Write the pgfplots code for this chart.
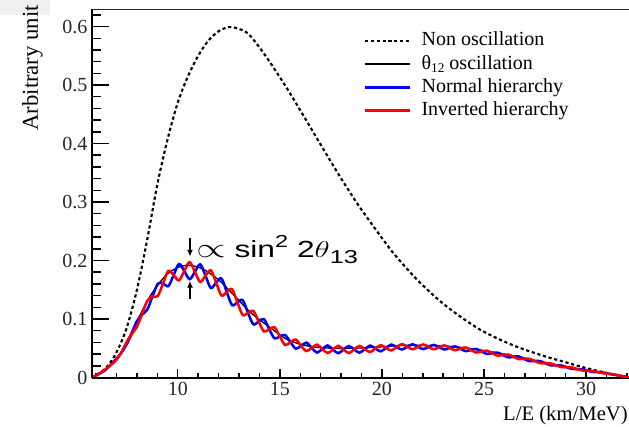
\documentclass[border=0pt]{standalone}
\usepackage{fontspec}
\setmainfont{Liberation Serif}
\newfontfamily\sansfont{Liberation Sans}
\usepackage{pgfplots}
\usepackage{pgfplotstable}
\pgfplotsset{compat=1.18}
\usetikzlibrary{arrows.meta}

\pgfplotstableread{
x y
5.8 0
6.0 0.004
6.5 0.017
7.0 0.043
7.5 0.085
8.0 0.150
8.5 0.235
9.0 0.330
9.5 0.407
10.0 0.470
10.5 0.515
11.0 0.550
11.5 0.576
12.0 0.592
12.5 0.599
13.0 0.596
13.5 0.586
14.3 0.550
15.3 0.497
16.1 0.451
16.9 0.404
17.9 0.346
18.8 0.297
19.8 0.248
20.6 0.211
21.7 0.168
22.8 0.132
23.8 0.105
24.8 0.082
25.7 0.066
26.5 0.054
27.3 0.044
28.1 0.035
29.0 0.026
29.8 0.018
30.6 0.011
31.4 0.005
32.1 0.000
}\nonosc

\pgfplotstableread{
x y
5.8 0
6.0 0.003
6.5 0.015
7.1 0.036
7.6 0.068
8.1 0.103
8.7 0.142
9.4 0.174
10.0 0.188
10.5 0.192
11.2 0.186
12.0 0.167
12.8 0.139
13.6 0.110
14.5 0.086
15.3 0.066
16.0 0.057
16.7 0.052
17.6 0.050
18.5 0.050
19.3 0.051
20.2 0.053
21.0 0.055
22.0 0.055
23.0 0.054
24.0 0.051
25.0 0.046
25.8 0.041
26.6 0.036
27.4 0.030
28.2 0.024
29.1 0.018
29.9 0.013
30.7 0.009
31.4 0.005
32.1 0.0
}\thetaonetwo

\pgfplotstableread{
x ih nh
5.80 0.0000 0.0000
5.90 0.0013 0.0015
6.16 0.0065 0.0065
6.42 0.0130 0.0118
6.68 0.0203 0.0203
6.94 0.0278 0.0302
7.20 0.0405 0.0405
7.46 0.0583 0.0543
7.72 0.0730 0.0730
7.98 0.0855 0.0951
8.24 0.1070 0.1070
8.50 0.1307 0.1157
8.76 0.1382 0.1382
9.02 0.1391 0.1601
9.28 0.1609 0.1609
9.54 0.1823 0.1563
9.80 0.1751 0.1751
10.06 0.1660 0.1940
10.32 0.1820 0.1820
10.58 0.1972 0.1682
10.84 0.1806 0.1806
11.10 0.1634 0.1934
11.36 0.1740 0.1740
11.62 0.1831 0.1531
11.88 0.1622 0.1622
12.14 0.1403 0.1693
12.40 0.1461 0.1461
12.66 0.1509 0.1239
12.92 0.1286 0.1286
13.18 0.1071 0.1321
13.44 0.1106 0.1106
13.70 0.1140 0.0910
13.96 0.0959 0.0959
14.22 0.0788 0.0998
14.48 0.0826 0.0826
14.74 0.0859 0.0669
15.00 0.0702 0.0702
15.26 0.0555 0.0725
15.52 0.0604 0.0604
15.78 0.0649 0.0493
16.04 0.0541 0.0541
16.30 0.0452 0.0596
16.56 0.0506 0.0506
16.82 0.0562 0.0426
17.08 0.0489 0.0489
17.34 0.0418 0.0548
17.60 0.0478 0.0478
17.86 0.0541 0.0415
18.12 0.0478 0.0478
18.38 0.0418 0.0538
18.64 0.0479 0.0479
18.90 0.0540 0.0424
19.16 0.0485 0.0485
19.42 0.0434 0.0546
19.68 0.0495 0.0495
19.94 0.0553 0.0447
20.20 0.0506 0.0506
20.46 0.0463 0.0563
20.72 0.0519 0.0519
20.98 0.0571 0.0479
21.24 0.0525 0.0525
21.50 0.0482 0.0568
21.76 0.0525 0.0525
22.02 0.0565 0.0485
22.28 0.0522 0.0522
22.54 0.0482 0.0558
22.80 0.0518 0.0518
23.06 0.0549 0.0479
23.32 0.0506 0.0506
23.58 0.0466 0.0532
23.84 0.0492 0.0492
24.10 0.0513 0.0451
24.36 0.0470 0.0470
24.62 0.0427 0.0487
24.88 0.0445 0.0445
25.14 0.0459 0.0403
25.40 0.0415 0.0415
25.66 0.0374 0.0426
25.92 0.0385 0.0385
26.18 0.0393 0.0345
26.44 0.0353 0.0353
26.70 0.0315 0.0359
26.96 0.0318 0.0318
27.22 0.0320 0.0280
27.48 0.0281 0.0281
27.74 0.0245 0.0281
28.00 0.0244 0.0244
28.26 0.0241 0.0209
28.52 0.0209 0.0209
28.78 0.0178 0.0206
29.04 0.0176 0.0176
29.30 0.0172 0.0148
29.56 0.0144 0.0144
29.82 0.0119 0.0139
30.08 0.0116 0.0116
30.34 0.0111 0.0095
30.60 0.0091 0.0091
30.86 0.0071 0.0083
31.12 0.0063 0.0063
31.38 0.0053 0.0045
31.64 0.0032 0.0032
31.90 0.0011 0.0015
32.10 0.0000 0.0000
}\hier

\begin{document}
\begin{tikzpicture}
\useasboundingbox (-69pt,-36.375pt) rectangle (402.75pt,283.125pt);
\fill[black!6] (-69pt,283.125pt) rectangle (-31.5pt,271.9pt);
\begin{axis}[
  scale only axis, width=402.75pt, height=276.375pt,
  xmin=5.8, xmax=32.1, ymin=0, ymax=0.63,
  axis x line=bottom, axis y line=left,
  axis line style={-, line width=1.5pt},
  ytick=\empty,
  xtick={10,15,20,25,30},
  xticklabels={10,15,20,25,30},
  minor xtick={6,7,8,9,11,12,13,14,16,17,18,19,21,22,23,24,26,27,28,29,31,32},
  tick align=inside,
  major tick length=6.75pt, minor tick length=3.4pt,
  every tick/.style={black, line width=1.1pt},
  xticklabel style={font=\rmfamily\fontsize{15}{15}\selectfont, text=black!85},
  legend style={at={(axis description cs:0.498,0.948)}, anchor=north west,
    draw=none, fill=none, font=\rmfamily\fontsize{15}{15}\selectfont,
    nodes={inner sep=0pt, text height=11pt, text depth=3.5pt},
    row sep=3pt, column sep=7.5pt},
  legend cell align=left,
  legend image code/.code={\draw[#1] (0pt,0pt) -- (34pt,0pt);},
]
\addplot[black, line width=1.6pt, dash pattern=on 2.4pt off 2pt, smooth, tension=0.5] table[x=x,y=y] {\nonosc};
\addlegendentry{Non oscillation}
\addplot[black, line width=1pt, smooth, tension=0.5] table[x=x,y=y] {\thetaonetwo};
\addlegendentry{θ\raisebox{-0.35ex}{\fontsize{10}{10}\selectfont 12} oscillation}
\addplot[blue, line width=1.9pt, smooth, tension=0.55] table[x=x,y=nh] {\hier};
\addlegendentry{Normal hierarchy}
\addplot[red, line width=1.9pt, smooth, tension=0.55] table[x=x,y=ih] {\hier};
\addlegendentry{Inverted hierarchy}
\draw[line width=1pt, black!85] (rel axis cs:0,1) -- (rel axis cs:1,1);
\draw[-{Latex[length=5pt,width=4.5pt]}, line width=0.8pt] (axis cs:10.6,0.238) -- (axis cs:10.6,0.207);
\draw[-{Latex[length=5pt,width=4.5pt]}, line width=0.8pt] (axis cs:10.6,0.134) -- (axis cs:10.6,0.165);
\node[anchor=base west, inner sep=0pt, xscale=1.36, font=\sansfont\fontsize{17.5}{17.5}\selectfont] at (axis cs:10.9,0.205) {{\fontsize{22}{22}\selectfont$\propto$} sin\raisebox{0.85ex}{\fontsize{13}{13}\selectfont 2} 2{\fontsize{18.5}{18.5}\selectfont$\theta$}\raisebox{-0.45ex}{\fontsize{14}{14}\selectfont 13}};
\end{axis}
\begin{axis}[
  scale only axis, width=402.75pt, height=276.375pt,
  xmin=5.8, xmax=32.1, ymin=0, ymax=0.63,
  hide x axis, axis y line=left,
  axis line style={-, line width=1.5pt},
  ytick={0,0.1,0.2,0.3,0.4,0.5,0.6},
  yticklabels={0,0.1,0.2,0.3,0.4,0.5,0.6},
  minor ytick={0.02,0.04,0.06,0.08,0.12,0.14,0.16,0.18,0.22,0.24,0.26,0.28,0.32,0.34,0.36,0.38,0.42,0.44,0.46,0.48,0.52,0.54,0.56,0.58,0.62},
  tick align=inside,
  major tick length=12.75pt, minor tick length=6.4pt,
  every tick/.style={black, line width=1.1pt},
  yticklabel style={font=\rmfamily\fontsize{15}{15}\selectfont, text=black!85},
]
\end{axis}
\node[rotate=90, anchor=base east, inner sep=0pt, font=\rmfamily\fontsize{17}{17}\selectfont] at (-40.5pt,279.4pt) {Arbitrary unit};
\node[anchor=base east, inner sep=0pt, font=\rmfamily\fontsize{15.5}{15.5}\selectfont] at (402pt,-32.25pt) {L/E (km/MeV)};
\end{tikzpicture}
\end{document}
